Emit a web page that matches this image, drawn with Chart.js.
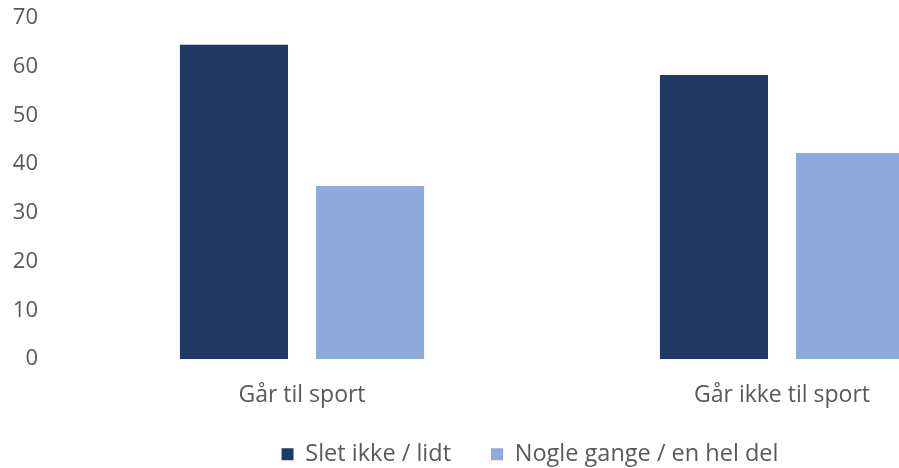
<!DOCTYPE html>
<html>
<head>
<meta charset="utf-8">
<script src="https://cdn.jsdelivr.net/npm/chart.js@4"></script>
<style>
    html, body { margin: 0; padding: 0; background: #fff; overflow: hidden; }
    #wrap { width: 1060px; height: 468px; position: relative; }
</style>
</head>
<body>
<div id="wrap"><canvas id="chart"></canvas></div>
<script>
// Data
const categories = ["Går til sport", "Går ikke til sport"];
const seriesNames = ["Slet ikke / lidt", "Nogle gange / en hel del"];
const sletIkke = [64.5, 58.3];
const nogleGange = [35.5, 42.3];
const yTicks = [0, 10, 20, 30, 40, 50, 60, 70];

const textColor = "#595959";
const fontFamily = "'Open Sans', 'Noto Sans', sans-serif";

// axes are squeezed to place the legend like the original; let their labels draw past the boxes
const unclipTicks = {
    id: "unclipTicks",
    afterLayout(chart) {
        chart.scales.x.bottom += 30;
        chart.scales.y.left -= 38;
    },
};

// The original chart is cut off on the right, so the canvas is wider than the window
const contexto = document.getElementById("chart");
const chart = new Chart(contexto, {
    type: "bar",
    data: {
        labels: categories,
        datasets: [
            { label: seriesNames[0], data: sletIkke, backgroundColor: "#203864" },
            { label: seriesNames[1], data: nogleGange, backgroundColor: "#8faadc" },
        ],
    },
    options: {
        responsive: true,
        maintainAspectRatio: false,
        animation: false,
        categoryPercentage: 0.567,
        barPercentage: 0.794,
        layout: { padding: { left: 38, right: 38, top: 0, bottom: -8 } },
        plugins: {
            tooltip: { enabled: false },
            legend: {
                position: "bottom",
                labels: {
                    color: textColor,
                    font: { family: fontFamily, size: 23.5 },
                    boxWidth: 12,
                    boxHeight: 12,
                    padding: 40,
                },
            },
        },
        scales: {
            x: {
                grid: { display: false, drawTicks: false },
                border: { display: false },
                ticks: {
                    color: textColor,
                    font: { family: fontFamily, size: 23 },
                    padding: 22.5,
                },
                afterFit: (axis) => { axis.height = 43.5; },
            },
            y: {
                min: yTicks[0],
                max: yTicks[yTicks.length - 1],
                afterBuildTicks: (axis) => {
                    axis.ticks = yTicks.map((v) => ({ value: v }));
                },
                grid: { display: false, drawTicks: false },
                border: { display: false },
                ticks: {
                    color: textColor,
                    font: { family: fontFamily, size: 22 },
                    padding: 24,
                },
                afterFit: (axis) => {
                    axis.width = 24;
                    axis.paddingTop = 18;
                    axis.paddingBottom = 0;
                },
            },
        },
    },
    plugins: [unclipTicks],
});
</script>
</body>
</html>
